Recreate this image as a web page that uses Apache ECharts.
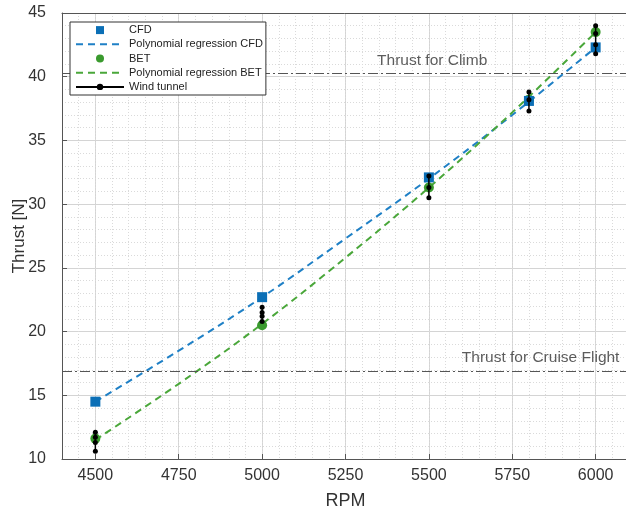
<!DOCTYPE html>
<html>
<head>
<meta charset="utf-8">
<script src="https://cdn.jsdelivr.net/npm/echarts@6/dist/echarts.min.js"></script>
<style>
  html, body { margin: 0; padding: 0; background: #fff; }
  #chart { width: 626px; height: 514px; }
</style>
</head>
<body>
<div id="chart"></div>
<script>
// Tick values on the RPM axis
const rpmTicks = [4500, 4750, 5000, 5250, 5500, 5750, 6000];

// Simulation results at the tested speeds
const rpm = [4500, 5000, 5500, 5800, 6000];
const cfdThrust = [14.5, 22.7, 32.1, 38.1, 42.3];
const betThrust = [11.6, 20.5, 31.3, 38.2, 43.5];

// Polynomial regression curves, sampled along RPM
const fitRpm = [4500, 4750, 5000, 5250, 5500, 5750, 6000];
const cfdFit = [14.5, 18.5, 22.7, 27.3, 32.0, 37.0, 42.3];
const betFit = [11.5, 15.9, 20.6, 25.8, 31.3, 37.2, 43.5];

// Wind tunnel measurements (several runs per speed)
const windTunnelRpm = [4500, 5000, 5500, 5800, 6000];
const wt4500 = [12.1, 11.7, 11.3, 10.6];
const wt5000 = [21.9, 21.5, 21.2, 20.8];
const wt5500 = [32.2, 31.3, 30.5];
const wt5800 = [38.8, 38.2, 37.3];
const wt6000 = [44.0, 43.4, 42.5, 41.8];
const windTunnel = [wt4500, wt5000, wt5500, wt5800, wt6000];

// Required thrust levels
const climbThrust = 40.3;
const cruiseThrust = 16.9;

const FONT = '"Liberation Sans", Arial, sans-serif';
const BLUE = '#0b6fb6';
const BLUE_LINE = '#1f80c6';
const GREEN = '#3a9a2e';
const GREEN_LINE = '#4aa73a';
const HIDDEN = { color: 'rgba(0,0,0,0)', borderWidth: 0 };

const chart = echarts.init(document.getElementById('chart'), null, { renderer: 'canvas' });

const pairs = (xs, ys) => xs.map((x, i) => [x, ys[i]]);

const windSeries = windTunnelRpm.map((r, i) => ({
  name: 'Wind tunnel',
  type: 'line',
  data: windTunnel[i].map(v => [r, v]),
  symbol: 'circle',
  symbolSize: 5,
  showSymbol: true,
  color: '#000',
  lineStyle: { color: '#000', width: 1.5 },
  itemStyle: { color: '#000' },
  z: 6
}));

const refLine = (value) => ({
  silent: true,
  symbol: 'none',
  label: { show: false },
  lineStyle: { color: '#555', width: 1, type: [10, 3, 2, 3] },
  data: [{ yAxis: value }]
});

const option = {
  animation: false,
  textStyle: { fontFamily: FONT },
  grid: { left: 62, top: 13, width: 567, height: 446, show: false, outerBoundsMode: 'none', containLabel: false },
  xAxis: [
    {
      type: 'value',
      min: 4400,
      max: 6100,
      name: 'RPM',
      nameLocation: 'middle',
      nameGap: 33,
      nameMoveOverlap: false,
      nameTextStyle: { fontFamily: FONT, fontSize: 18, color: '#333' },
      axisLine: { show: true, onZero: false, lineStyle: { color: '#555', width: 1 } },
      axisTick: { show: true, inside: true, length: 5, customValues: rpmTicks, lineStyle: { color: '#555' } },
      axisLabel: {
        customValues: rpmTicks,
        formatter: v => String(v),
        fontFamily: FONT, fontSize: 16, color: '#333', margin: 9
      },
      splitLine: { show: true, lineStyle: { color: '#d4d4d4', width: 1 } }
    },
    {
      // fine dotted grid every 50 RPM
      type: 'value',
      position: 'top',
      min: 4400,
      max: 6100,
      interval: 50,
      axisLine: { show: true, lineStyle: { color: '#555', width: 1 } },
      axisTick: { show: false },
      axisLabel: { show: false },
      splitLine: { show: true, lineStyle: { color: '#dadada', width: 1, type: [1, 2] } },
      z: 0
    }
  ],
  yAxis: {
    type: 'value',
    min: 10,
    max: 45,
    interval: 5,
    name: 'Thrust [N]',
    nameLocation: 'middle',
    nameGap: 34,
    nameMoveOverlap: false,
    nameTextStyle: { fontFamily: FONT, fontSize: 17, color: '#333' },
    axisLine: { show: true, lineStyle: { color: '#555', width: 1 } },
    axisTick: { show: true, inside: true, length: 5, lineStyle: { color: '#555' } },
    axisLabel: { fontFamily: FONT, fontSize: 16, color: '#333', margin: 16 },
    splitLine: { show: true, lineStyle: { color: '#d4d4d4', width: 1 } },
    minorTick: { show: false, splitNumber: 5 },
    minorSplitLine: { show: true, lineStyle: { color: '#dadada', width: 1, type: [1, 2] } }
  },
  legend: {
    orient: 'vertical',
    left: 70,
    top: 22,
    z: 20,
    padding: [2, 3, 2, 5],
    itemWidth: 48,
    itemHeight: 8,
    itemGap: 2,
    backgroundColor: '#fff',
    borderColor: '#333',
    borderWidth: 1,
    borderRadius: 0,
    textStyle: { fontFamily: FONT, fontSize: 11, color: '#222', lineHeight: 12.2 },
    data: [
      { name: 'CFD', icon: 'path://M0,0H10V10H0Z' },
      { name: 'Polynomial regression CFD', itemStyle: HIDDEN },
      { name: 'BET', icon: 'circle' },
      { name: 'Polynomial regression BET', itemStyle: HIDDEN },
      { name: 'Wind tunnel' }
    ]
  },
  series: [
    {
      name: 'Polynomial regression CFD',
      type: 'line',
      data: pairs(fitRpm, cfdFit),
      smooth: 0.4,
      showSymbol: false,
      symbol: 'none',
      color: BLUE_LINE,
      lineStyle: { color: BLUE_LINE, width: 2, type: [7, 5] },
      z: 3,
      markLine: refLine(climbThrust)
    },
    {
      name: 'Polynomial regression BET',
      type: 'line',
      data: pairs(fitRpm, betFit),
      smooth: 0.4,
      showSymbol: false,
      symbol: 'none',
      color: GREEN_LINE,
      lineStyle: { color: GREEN_LINE, width: 2, type: [7, 5] },
      z: 3,
      markLine: refLine(cruiseThrust)
    },
    {
      name: 'BET',
      type: 'scatter',
      data: pairs(rpm, betThrust),
      symbol: 'circle',
      symbolSize: 10,
      color: GREEN,
      itemStyle: { color: GREEN, opacity: 1 },
      z: 4
    },
    {
      name: 'CFD',
      type: 'scatter',
      data: pairs(rpm, cfdThrust),
      symbol: 'rect',
      symbolSize: 10,
      color: BLUE,
      itemStyle: { color: BLUE, opacity: 1 },
      z: 5
    },
    ...windSeries,
    {
      name: 'labels',
      type: 'scatter',
      silent: true,
      symbolSize: 0,
      data: [
        { value: [5510, climbThrust], label: { formatter: 'Thrust for Climb', offset: [0, -12] } },
        { value: [5835, cruiseThrust], label: { formatter: 'Thrust for Cruise Flight', offset: [0, -13] } }
      ],
      label: { show: true, position: 'inside', fontFamily: FONT, fontSize: 15.5, color: '#333' },
      z: 7
    }
  ]
};

chart.setOption(option);
</script>
</body>
</html>
